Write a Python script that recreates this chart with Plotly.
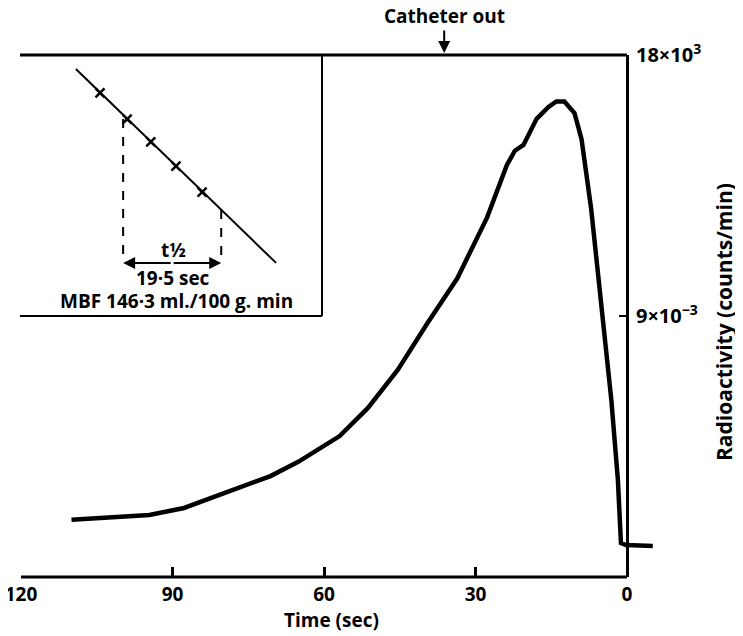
import math
import plotly.graph_objects as go

# ---- main curve data (time before end, seconds ; radioactivity, x10^3 counts/min) ----
time_s = [110, 94.6, 87.7, 73.0, 70.6, 65.1, 59.2, 56.9, 51.3, 45.4, 39.5, 33.6,
          27.7, 23.8, 22.2, 20.5, 17.9, 15.6, 14.0, 12.4, 10.4, 9.0, 7.1, 5.1,
          3.1, 1.8, 1.2, 0.2, -5.1]
radio = [1.97, 2.14, 2.38, 3.34, 3.48, 3.97, 4.62, 4.86, 5.83, 7.14, 8.76, 10.3,
         12.4, 14.2, 14.7, 14.9, 15.8, 16.2, 16.4, 16.4, 16.0, 15.1, 12.7, 9.55,
         6.1, 3.34, 1.17, 1.10, 1.07]

x_ticks = [120, 90, 60, 30, 0]
x_ticktext = ["120", "90", "60", "30", "0"]
y_ticks = [9, 18]
y_ticktext = ["9×10<sup>−3</sup>", "18×10<sup>3</sup>"]
catheter_out_t = 36.2

# ---- inset (washout on log scale) ----
inset_fit_t = [-4.8, 35.0]
inset_fit_c = [1200, 274]
inset_pts_t = [0, 5.4, 10.1, 15.1, 20.3]
inset_pts_c = [1000, 820, 689, 573, 470]
half_t = [4.6, 24.1]
half_c = [820, 410]
half_base = 274

FONT = "Open Sans"
FS = 19
W, H = 743, 636
OFF = 8                     # page body margin offset
PLOT_TOP, PLOT_BOT = 55, 577  # target screen pixels
MT = PLOT_TOP - OFF
MB = H - (PLOT_BOT - OFF)
PH = H - MT - MB
px = lambda v: (v - OFF) / W
py = lambda v: (PLOT_BOT - v) / PH

X_LEFT_PX, X_ZERO_PX = 21, 627
pps = (X_ZERO_PX - X_LEFT_PX) / 120.0
x_end = -6.5
x_end_px = X_ZERO_PX - x_end * pps

fig = go.Figure()

fig.add_trace(go.Scatter(x=time_s, y=radio, mode="lines",
                         line=dict(color="black", width=4.5, shape="linear"),
                         xaxis="x", yaxis="y", showlegend=False, hoverinfo="skip"))

# inset traces
fig.add_trace(go.Scatter(x=inset_fit_t, y=inset_fit_c, mode="lines",
                         line=dict(color="black", width=2),
                         xaxis="x2", yaxis="y2", showlegend=False))
fig.add_trace(go.Scatter(x=inset_pts_t, y=inset_pts_c, mode="markers",
                         marker=dict(symbol="x-thin", size=9, color="black",
                                     line=dict(width=2.5, color="black")),
                         xaxis="x2", yaxis="y2", showlegend=False))
for t, c in zip(half_t, half_c):
    fig.add_trace(go.Scatter(x=[t, t], y=[c, half_base], mode="lines",
                             line=dict(color="black", width=2, dash="dash"),
                             xaxis="x2", yaxis="y2", showlegend=False))

mid = (half_t[0] + half_t[1]) / 2
annots = []
for end in half_t:
    annots.append(dict(x=end, y=math.log10(half_base), ax=mid, ay=math.log10(half_base),
                       xref="x2", yref="y2", axref="x2", ayref="y2", text="",
                       showarrow=True, arrowhead=2, arrowsize=1.2, arrowwidth=2,
                       arrowcolor="black", standoff=0, startstandoff=0))

font = dict(family=FONT, size=FS, color="black", weight="bold")
font_big = dict(family=FONT, size=21, color="black", weight="bold")
font_ytick = dict(family=FONT, size=20, color="black", weight="bold")


def txt(x, y, s, f=font, angle=0):
    return dict(x=px(x), y=py(y), xref="paper", yref="paper", text=s,
                xanchor="center", yanchor="middle", textangle=angle,
                showarrow=False, font=f)


annots += [
    txt(173, 250, "t½"),
    txt(173, 278, "19·5 sec"),
    txt(176, 301, "MBF 146·3 ml./100 g. min"),
    txt(331, 620, "Time (sec)"),
    txt(724, 322, "Radioactivity (counts/min)", font_big, -90),
    dict(x=catheter_out_t, y=1, xref="x", yref="paper", text="Catheter out",
         showarrow=True, ax=0, ay=-39, arrowhead=2, arrowsize=1.2, arrowwidth=2,
         arrowcolor="black", standoff=2, font=font),
]

shapes = [
    dict(type="line", xref="paper", yref="paper", x0=px(21), x1=px(627), y0=0, y1=0,
         line=dict(color="black", width=3)),
    dict(type="line", xref="paper", yref="paper", x0=px(20), x1=px(627), y0=1, y1=1,
         line=dict(color="black", width=3)),
    dict(type="line", xref="paper", yref="paper", x0=px(322), x1=px(322), y0=py(316), y1=1,
         line=dict(color="black", width=2)),
    dict(type="line", xref="paper", yref="paper", x0=px(20), x1=px(322), y0=py(316), y1=py(316),
         line=dict(color="black", width=2)),
]

fig.update_layout(
    width=W, height=H,
    margin=dict(l=0, r=0, t=MT, b=MB, pad=0, autoexpand=False),
    paper_bgcolor="white", plot_bgcolor="white",
    showlegend=False,
    font=font,
    xaxis=dict(domain=[px(X_LEFT_PX), px(x_end_px)], range=[120, x_end],
               showline=False, showgrid=False, zeroline=False, automargin=False,
               ticks="inside", ticklen=10, tickwidth=2.5, tickcolor="black",
               tickvals=x_ticks, ticktext=x_ticktext, tickfont=font,
               ticklabelstandoff=4, ticklabeloverflow="allow", anchor="y"),
    yaxis=dict(domain=[0, 1], range=[0, 18], side="right", anchor="free",
               position=px(X_ZERO_PX), showline=True, linewidth=3, linecolor="black",
               showgrid=False, zeroline=False, automargin=False, ticks="inside", ticklen=7,
               tickwidth=2, tickcolor="black", tickvals=y_ticks, ticktext=y_ticktext,
               tickfont=font_ytick, ticklabelstandoff=3, ticklabeloverflow="allow"),
    xaxis2=dict(domain=[px(21), px(322)], anchor="y2",
                range=[(21 - 100) / 5.03, (322 - 100) / 5.03], visible=False),
    yaxis2=dict(domain=[py(316), 1], anchor="x2", type="log",
                range=[2.262, 3.1257], visible=False),
    annotations=annots,
    shapes=shapes,
)

fig.write_html("out.html")
